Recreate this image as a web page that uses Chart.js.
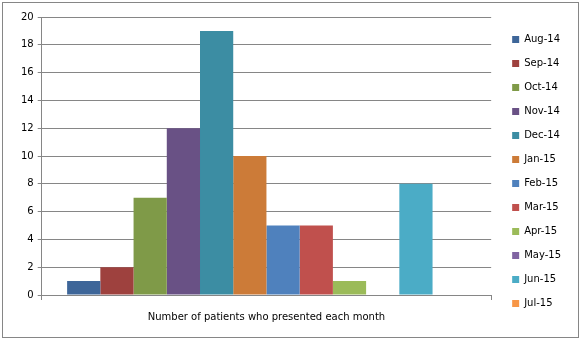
<!DOCTYPE html>
<html>
<head>
<meta charset="utf-8">
<script src="https://cdn.jsdelivr.net/npm/chart.js@4"></script>
<style>
  body { margin: 0; background: #fff; }
  #wrap { position: absolute; left: 2px; top: 2px; width: 575px; height: 334px; border: 1px solid #868686; background: #fff; }
  canvas { display: block; }
</style>
</head>
<body>
<div id="wrap"><canvas id="chart" width="575" height="334"></canvas></div>
<script>
// one category, each month is its own series (Excel style)
const category = ['Number of patients who presented each month'];
const months = ['Aug-14', 'Sep-14', 'Oct-14', 'Nov-14', 'Dec-14', 'Jan-15',
                'Feb-15', 'Mar-15', 'Apr-15', 'May-15', 'Jun-15', 'Jul-15'];
const patients = [1, 2, 7, 12, 19, 10, 5, 5, 1, 0, 8, 0];
const colors = ['#3e6699', '#9e413e', '#7f9a48', '#695185', '#3c8da3', '#cc7b38',
                '#4f81bd', '#c0504d', '#9bbb59', '#8064a2', '#4bacc6', '#f79646'];
const yTicks = [0, 2, 4, 6, 8, 10, 12, 14, 16, 18, 20];

const font = { family: 'DejaVu Sans', size: 10 };

// nudge the legend a bit right/up without touching the plot area
const legendShift = {
    id: 'legendShift',
    beforeDraw(chart) {
        const lg = chart.legend;
        lg.left += 7; lg.right += 7;
        lg.top -= 4; lg.bottom -= 4;
    }
};

new Chart(document.getElementById('chart').getContext('2d'), {
    type: 'bar',
    data: {
        labels: category,
        datasets: months.map((m, i) => ({
            label: m,
            data: [patients[i]],
            backgroundColor: colors[i],
            borderWidth: 0,
            categoryPercentage: 0.887,
            barPercentage: 1
        }))
    },
    options: {
        responsive: false,
        animation: false,
        layout: { padding: { left: 14, top: 14, right: 14, bottom: 3 } },
        scales: {
            y: {
                min: yTicks[0],
                max: yTicks[yTicks.length - 1],
                ticks: { stepSize: 2, color: '#000', font: font, padding: 4 },
                grid: { color: '#868686', tickLength: 4 },
                border: { color: '#868686' }
            },
            x: {
                ticks: { color: '#000', font: font, padding: 11 },
                grid: { drawOnChartArea: false, color: '#868686', tickLength: 5, offset: true },
                border: { color: '#868686' }
            }
        },
        plugins: {
            legend: {
                position: 'right',
                labels: { boxWidth: 7, boxHeight: 7, padding: 14, color: '#000', font: font }
            },
            tooltip: { enabled: false }
        }
    },
    plugins: [legendShift]
});
</script>
</body>
</html>
